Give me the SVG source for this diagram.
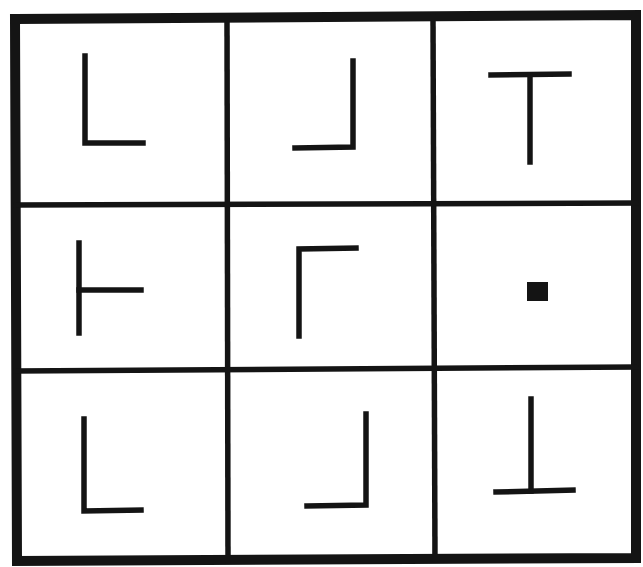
<svg xmlns="http://www.w3.org/2000/svg" width="643" height="567" viewBox="0 0 643 567">
<style>
.g{stroke:#141414;fill:none;stroke-linecap:square}
.outer{stroke-width:10}
.inner{stroke-width:5.5}
.mark{stroke-width:5.5}
</style>
<rect width="643" height="567" fill="#fff"/>
<g id="grid" class="g">
<polygon class="outer" points="15,19 636,15 636,558 17,561"/>
<line class="inner" x1="227" y1="18" x2="228" y2="560"/>
<line class="inner" x1="433" y1="17" x2="435" y2="559"/>
<line class="inner" x1="16" y1="205" x2="636" y2="203"/>
<line class="inner" x1="16" y1="371" x2="636" y2="367"/>
</g>
<g id="c11" class="g"><polyline class="mark" points="85,56 85,143 143,143"/></g>
<g id="c12" class="g"><polyline class="mark" points="295,148 353,147 353,61"/></g>
<g id="c13" class="g"><line class="mark" x1="491" y1="75" x2="569" y2="74"/><line class="mark" x1="530" y1="75" x2="530" y2="162"/></g>
<g id="c21" class="g"><line class="mark" x1="79" y1="243" x2="79" y2="333"/><line class="mark" x1="79" y1="290" x2="141" y2="290"/></g>
<g id="c22" class="g"><polyline class="mark" points="299,336 299,249 356,248"/></g>
<g id="c23"><rect x="527" y="282" width="21" height="19" fill="#141414"/></g>
<g id="c31" class="g"><polyline class="mark" points="84,419 84,511 141,510"/></g>
<g id="c32" class="g"><polyline class="mark" points="307,506 366,505 366,414"/></g>
<g id="c33" class="g"><line class="mark" x1="531" y1="399" x2="531" y2="491"/><line class="mark" x1="496" y1="492" x2="573" y2="490"/></g>
</svg>
